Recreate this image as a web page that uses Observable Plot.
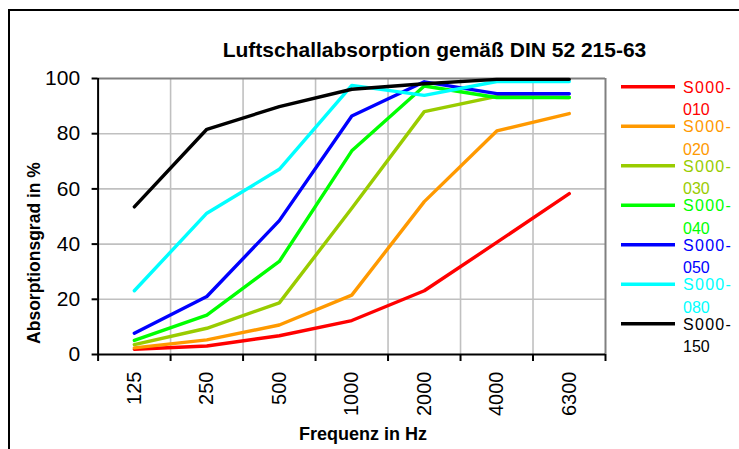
<!DOCTYPE html>
<html>
<head>
<meta charset="utf-8">
<script src="https://cdn.jsdelivr.net/npm/d3@7"></script>
<script src="https://cdn.jsdelivr.net/npm/@observablehq/plot@0.6"></script>
<style>
  html, body { margin: 0; padding: 0; background: #fff; }
  #chart { width: 739px; height: 449px; overflow: hidden; }
</style>
</head>
<body>
<div id="chart"></div>
<script>
// ---- data ----
const freqs = ["125", "250", "500", "1000", "2000", "4000", "6300"];
const seriesNames = ["S000-010", "S000-020", "S000-030", "S000-040", "S000-050", "S000-080", "S000-150"];
const seriesColors = ["#ff0000", "#ff9900", "#99cc00", "#00ff00", "#0000ff", "#00ffff", "#000000"];
const s010 = [1.9, 3.1, 6.8, 12.3, 23.1, 40.6, 58.3];
const s020 = [2.4, 5.3, 10.7, 21.5, 55.4, 81.0, 87.3];
const s030 = [3.6, 9.5, 18.7, 53.0, 88.0, 93.5, 93.1];
const s040 = [5.1, 14.3, 33.7, 73.8, 97.3, 93.1, 93.1];
const s050 = [7.7, 21.0, 48.5, 86.4, 98.8, 94.5, 94.5];
const s080 = [23.1, 51.2, 67.1, 97.5, 93.9, 98.9, 98.9];
const s150 = [53.5, 81.6, 89.8, 96.1, 98.1, 99.7, 99.7];
const yTicks = [0, 20, 40, 60, 80, 100];
const titleText = "Luftschallabsorption gemäß DIN 52 215-63";
const xLabel = "Frequenz in Hz";
const yLabel = "Absorptionsgrad in %";

const seriesValues = [s010, s020, s030, s040, s050, s080, s150];
const rows = seriesValues.flatMap((vals, si) =>
  vals.map((v, i) => ({ i, v, name: seriesNames[si] })));
const centers = freqs.map((_, i) => i);
const bounds = d3.range(freqs.length + 1).map(k => k - 0.5);
const innerBounds = bounds.slice(1, -1);

const FONT = "'Liberation Sans', Arial, sans-serif";

const chart = Plot.plot({
  width: 739,
  height: 449,
  marginLeft: 97.6,
  marginRight: 134,
  marginTop: 78,
  marginBottom: 95,
  style: { fontFamily: FONT, background: "#fff", color: "#000", overflow: "visible" },
  x: { type: "linear", domain: [bounds[0], bounds[bounds.length - 1]] },
  y: { domain: [0, 100] },
  color: { type: "ordinal", domain: seriesNames, range: seriesColors },
  marks: [
    Plot.gridY(yTicks.slice(1, -1), { stroke: "#c0c0c0", strokeOpacity: 1, strokeWidth: 1.6 }),
    Plot.gridX(innerBounds, { stroke: "#c0c0c0", strokeOpacity: 1, strokeWidth: 1.6 }),
    Plot.ruleY([100], { stroke: "#808080", strokeWidth: 2 }),
    Plot.ruleX([bounds[bounds.length - 1]], { stroke: "#808080", strokeWidth: 2 }),
    Plot.line(rows, { x: "i", y: "v", z: "name", stroke: "name", strokeWidth: 3.4, strokeLinejoin: "round" }),
    Plot.ruleX([bounds[0]], { stroke: "#000", strokeWidth: 2 }),
    Plot.ruleY([0], { stroke: "#000", strokeWidth: 2 }),
    Plot.axisY({ ticks: yTicks, tickSize: 6, tickPadding: 12, fontSize: 21, label: null, strokeWidth: 2 }),
    Plot.axisX({ ticks: bounds, tickSize: 7, tickFormat: () => "", label: null, strokeWidth: 2 }),
    Plot.axisX({ ticks: centers, tickSize: 0, tickPadding: 17, tickRotate: -90, fontSize: 20,
                 tickFormat: i => freqs[i], label: null })
  ]
});
document.getElementById("chart").appendChild(chart);

// ---- decorations: frame, title, axis titles, legend ----
const svg = d3.select(chart);
svg.insert("path", ":first-child")
  .attr("d", "M9,470V10H760")
  .attr("fill", "none").attr("stroke", "#000").attr("stroke-width", 2);

svg.append("text")
  .attr("x", 434.5).attr("y", 56.5)
  .attr("text-anchor", "middle")
  .attr("font-family", FONT).attr("font-weight", "bold").attr("font-size", 21)
  .attr("fill", "#000")
  .text(titleText);

svg.append("text")
  .attr("x", 363).attr("y", 440)
  .attr("text-anchor", "middle")
  .attr("font-family", FONT).attr("font-weight", "bold").attr("font-size", 18)
  .attr("fill", "#000")
  .text(xLabel);

svg.append("text")
  .attr("transform", "translate(39.5,253) rotate(-90)")
  .attr("text-anchor", "middle")
  .attr("font-family", FONT).attr("font-weight", "bold").attr("font-size", 17.5)
  .attr("fill", "#000")
  .text(yLabel);

const lg = svg.append("g").attr("font-family", FONT).attr("font-size", 16).attr("text-anchor", "start");
seriesNames.forEach((name, k) => {
  const y = 86.7 + k * 39.5;
  lg.append("line")
    .attr("x1", 621).attr("x2", 675).attr("y1", y).attr("y2", y)
    .attr("stroke", seriesColors[k]).attr("stroke-width", 3.5);
  const [a, b] = name.split("-");
  const t = lg.append("text").attr("fill", seriesColors[k]).attr("text-anchor", "start");
  t.append("tspan").attr("x", 683).attr("y", y + 5.8).attr("letter-spacing", 1.3).text(a + "-");
  t.append("tspan").attr("x", 683).attr("y", y + 28.5).attr("letter-spacing", 0).text(b);
});
</script>
</body>
</html>
